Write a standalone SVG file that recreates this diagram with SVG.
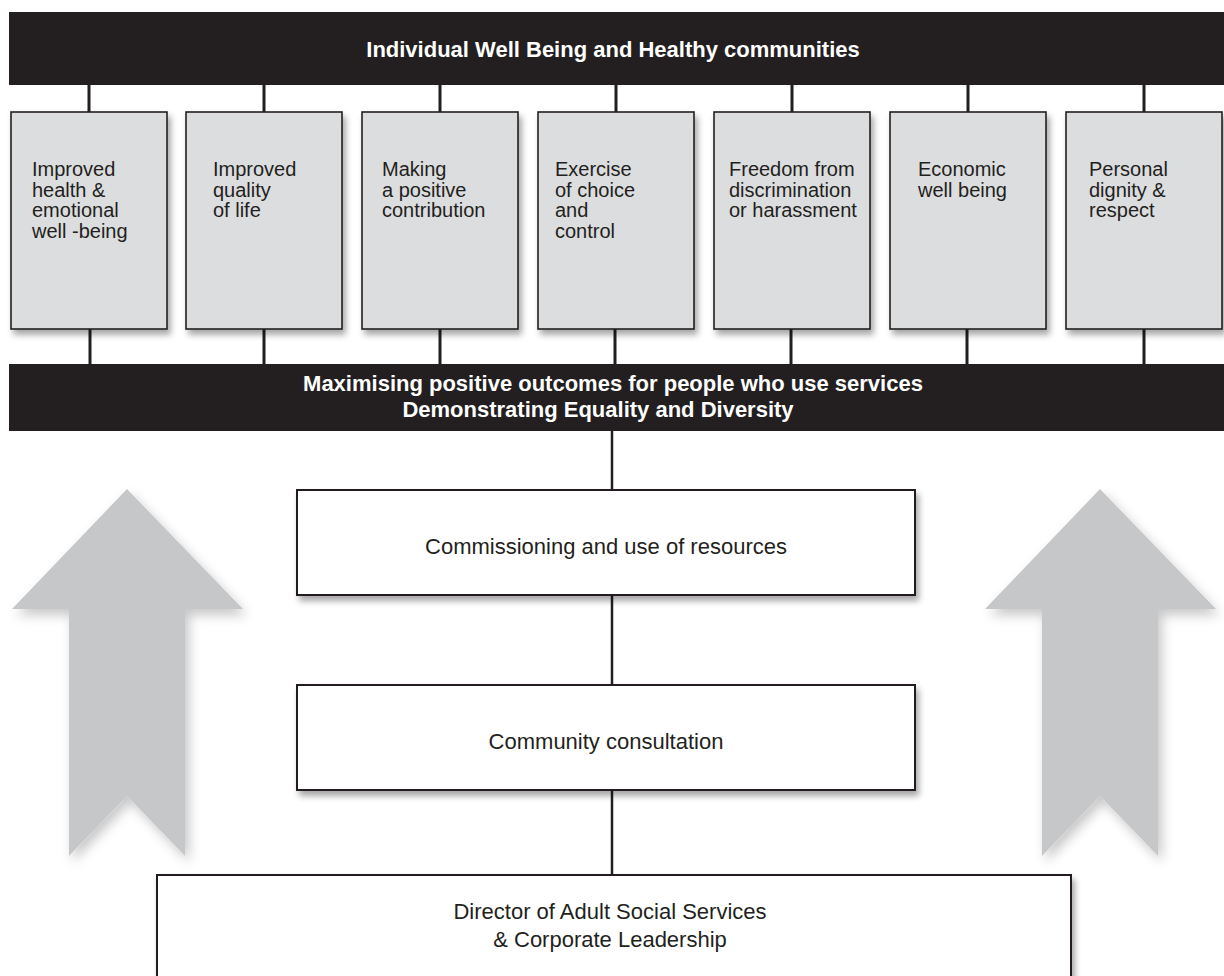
<svg xmlns="http://www.w3.org/2000/svg" width="1224" height="976" viewBox="0 0 1224 976">
<defs>
<filter id="sh" x="-10%" y="-10%" width="130%" height="130%">
<feDropShadow dx="3" dy="5" stdDeviation="3" flood-color="#000" flood-opacity="0.35"/>
</filter>
<filter id="ash" x="-20%" y="-10%" width="140%" height="130%">
<feDropShadow dx="4" dy="6" stdDeviation="6" flood-color="#000" flood-opacity="0.22"/>
</filter>
</defs>
<style>
.bar{fill:#231f20}
.bt{font-family:"Liberation Sans",Arial,sans-serif;font-weight:bold;font-size:22px;fill:#fff}
.ob{fill:#dcdddf;stroke:#231f20;stroke-width:1.6}
.ot{font-family:"Liberation Sans",Arial,sans-serif;font-size:20px;fill:#231f20}
.wb{fill:#fff;stroke:#231f20;stroke-width:2}
.wt{font-family:"Liberation Sans",Arial,sans-serif;font-size:22px;fill:#231f20;text-anchor:middle}
.cn{stroke:#231f20;stroke-width:3;fill:none}
.cn2{stroke:#231f20;stroke-width:2.5;fill:none}
.arr{fill:#c6c7c9}
</style>
<rect width="1224" height="976" fill="#fff"/>

<g id="arrows">
<polygon class="arr" filter="url(#ash)" points="127,489 243,609 185,609 185,856 127,796 69,856 69,609 12,609"/>
<polygon class="arr" filter="url(#ash)" points="1100,489 1216,609 1158,609 1158,856 1100,796 1042,856 1042,609 985,609"/>
</g>

<g id="connectors">
<line class="cn" x1="89" y1="85" x2="89" y2="112"/>
<line class="cn" x1="264" y1="85" x2="264" y2="112"/>
<line class="cn" x1="440" y1="85" x2="440" y2="112"/>
<line class="cn" x1="616" y1="85" x2="616" y2="112"/>
<line class="cn" x1="792" y1="85" x2="792" y2="112"/>
<line class="cn" x1="968" y1="85" x2="968" y2="112"/>
<line class="cn" x1="1144" y1="85" x2="1144" y2="112"/>
<line class="cn" x1="90" y1="329" x2="90" y2="364"/>
<line class="cn" x1="264" y1="329" x2="264" y2="364"/>
<line class="cn" x1="440" y1="329" x2="440" y2="364"/>
<line class="cn" x1="615" y1="329" x2="615" y2="364"/>
<line class="cn" x1="791" y1="329" x2="791" y2="364"/>
<line class="cn" x1="967" y1="329" x2="967" y2="364"/>
<line class="cn" x1="1144" y1="329" x2="1144" y2="364"/>
<line class="cn2" x1="612" y1="431" x2="612" y2="490"/>
<line class="cn2" x1="612" y1="595" x2="612" y2="685"/>
<line class="cn2" x1="612" y1="790" x2="612" y2="875"/>
</g>

<g id="top-bar">
<rect class="bar" x="9" y="12" width="1215" height="73"/>
<text class="bt" x="613" y="57" text-anchor="middle">Individual Well Being and Healthy communities</text>
</g>

<g id="box1">
<rect class="ob" filter="url(#sh)" x="11" y="112" width="156" height="217"/>
<text class="ot"><tspan x="32" y="176">Improved</tspan><tspan x="32" y="197">health &amp;</tspan><tspan x="32" y="217">emotional</tspan><tspan x="32" y="238">well -being</tspan></text>
</g>
<g id="box2">
<rect class="ob" filter="url(#sh)" x="186" y="112" width="156" height="217"/>
<text class="ot"><tspan x="213" y="176">Improved</tspan><tspan x="213" y="197">quality</tspan><tspan x="213" y="217">of life</tspan></text>
</g>
<g id="box3">
<rect class="ob" filter="url(#sh)" x="362" y="112" width="156" height="217"/>
<text class="ot"><tspan x="382" y="176">Making</tspan><tspan x="382" y="197">a positive</tspan><tspan x="382" y="217">contribution</tspan></text>
</g>
<g id="box4">
<rect class="ob" filter="url(#sh)" x="538" y="112" width="156" height="217"/>
<text class="ot"><tspan x="555" y="176">Exercise</tspan><tspan x="555" y="197">of choice</tspan><tspan x="555" y="217">and</tspan><tspan x="555" y="238">control</tspan></text>
</g>
<g id="box5">
<rect class="ob" filter="url(#sh)" x="714" y="112" width="156" height="217"/>
<text class="ot"><tspan x="729" y="176">Freedom from</tspan><tspan x="729" y="197">discrimination</tspan><tspan x="729" y="217">or harassment</tspan></text>
</g>
<g id="box6">
<rect class="ob" filter="url(#sh)" x="890" y="112" width="156" height="217"/>
<text class="ot"><tspan x="918" y="176">Economic</tspan><tspan x="918" y="197">well being</tspan></text>
</g>
<g id="box7">
<rect class="ob" filter="url(#sh)" x="1066" y="112" width="156" height="217"/>
<text class="ot"><tspan x="1089" y="176">Personal</tspan><tspan x="1089" y="197">dignity &amp;</tspan><tspan x="1089" y="217">respect</tspan></text>
</g>

<g id="outcomes-bar">
<rect class="bar" x="9" y="364" width="1215" height="67"/>
<text class="bt" x="613" y="391" text-anchor="middle">Maximising positive outcomes for people who use services</text>
<text class="bt" x="598" y="417" text-anchor="middle">Demonstrating Equality and Diversity</text>
</g>

<g id="commissioning">
<rect class="wb" filter="url(#sh)" x="297" y="490" width="618" height="105"/>
<text class="wt" x="606" y="554">Commissioning and use of resources</text>
</g>
<g id="community">
<rect class="wb" filter="url(#sh)" x="297" y="685" width="618" height="105"/>
<text class="wt" x="606" y="749">Community consultation</text>
</g>
<g id="director">
<rect class="wb" filter="url(#sh)" x="157" y="875" width="914" height="130"/>
<text class="wt" x="610" y="919">Director of Adult Social Services</text>
<text class="wt" x="610" y="947">&amp; Corporate Leadership</text>
</g>
</svg>
